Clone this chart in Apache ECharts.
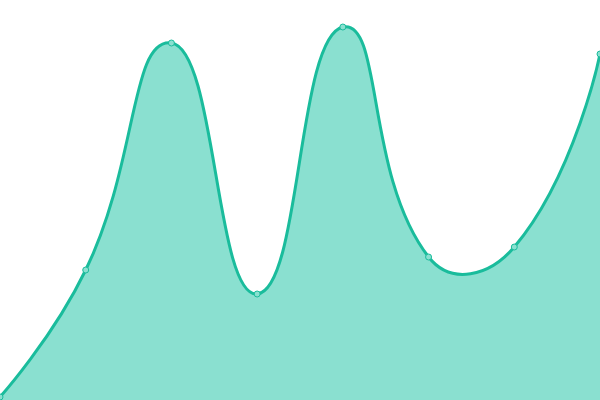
<!DOCTYPE html>
<html><head><meta charset="utf-8">
<script src="https://cdn.jsdelivr.net/npm/echarts@6/dist/echarts.min.js"></script>
<style>html,body{margin:0;padding:0;background:#fff}#c{width:600px;height:400px}</style>
</head><body><div id="c"></div>
<script>
const categories = ['1','2','3','4','5','6','7','8'];
const values = [3, 130, 357, 106, 373, 143, 153, 346];
const SMOOTH = 0.5;

function smoothPath(pts) {
  // classic (unconstrained) cardinal-style smoothing
  let d = 'M' + pts[0][0] + ' ' + pts[0][1];
  let cp0 = pts[0];
  for (let i = 1; i < pts.length; i++) {
    const p = pts[i], prev = pts[i - 1], next = pts[i + 1];
    let cp1, nextCp0;
    if (!next) { cp1 = p; nextCp0 = p; }
    else {
      const vx = next[0] - prev[0], vy = next[1] - prev[1];
      const l0 = Math.hypot(p[0] - prev[0], p[1] - prev[1]);
      const l1 = Math.hypot(next[0] - p[0], next[1] - p[1]);
      const r = l1 / (l0 + l1);
      cp1 = [p[0] - vx * SMOOTH * (1 - r), p[1] - vy * SMOOTH * (1 - r)];
      nextCp0 = [p[0] + vx * SMOOTH * r, p[1] + vy * SMOOTH * r];
    }
    d += ' C' + cp0[0] + ' ' + cp0[1] + ' ' + cp1[0] + ' ' + cp1[1] + ' ' + p[0] + ' ' + p[1];
    cp0 = nextCp0;
  }
  return d;
}

const chart = echarts.init(document.getElementById('c'));
chart.setOption({
  animation: false,
  grid: {left: 0, right: 0, top: 0, bottom: 0},
  xAxis: {type: 'category', data: categories, boundaryGap: false, show: false},
  yAxis: {type: 'value', min: 0, max: 400, show: false},
  series: [{
    type: 'custom',
    data: values.map((v, i) => [i, v]),
    clip: false,
    z: 1,
    renderItem: function (params, api) {
      if (params.dataIndex !== 0) return null;
      const pts = values.map((v, i) => api.coord([i, v]));
      const line = smoothPath(pts);
      const base0 = api.coord([0, 0]);
      const baseN = api.coord([values.length - 1, 0]);
      const area = line + ' L' + baseN[0] + ' ' + baseN[1] + ' L' + base0[0] + ' ' + base0[1] + ' Z';
      return {
        type: 'group',
        children: [
          {type: 'path', shape: {pathData: area}, style: {fill: '#8ae0d0', stroke: null}},
          {type: 'path', shape: {pathData: line}, style: {fill: null, stroke: '#1abc9c', lineWidth: 3}}
        ]
      };
    }
  }, {
    type: 'line',
    data: values,
    z: 3,
    symbol: 'circle',
    symbolSize: 6,
    itemStyle: {color: '#8ae0d0', borderColor: '#1abc9c', borderWidth: 1},
    lineStyle: {width: 0, opacity: 0}
  }]
});
</script></body></html>
